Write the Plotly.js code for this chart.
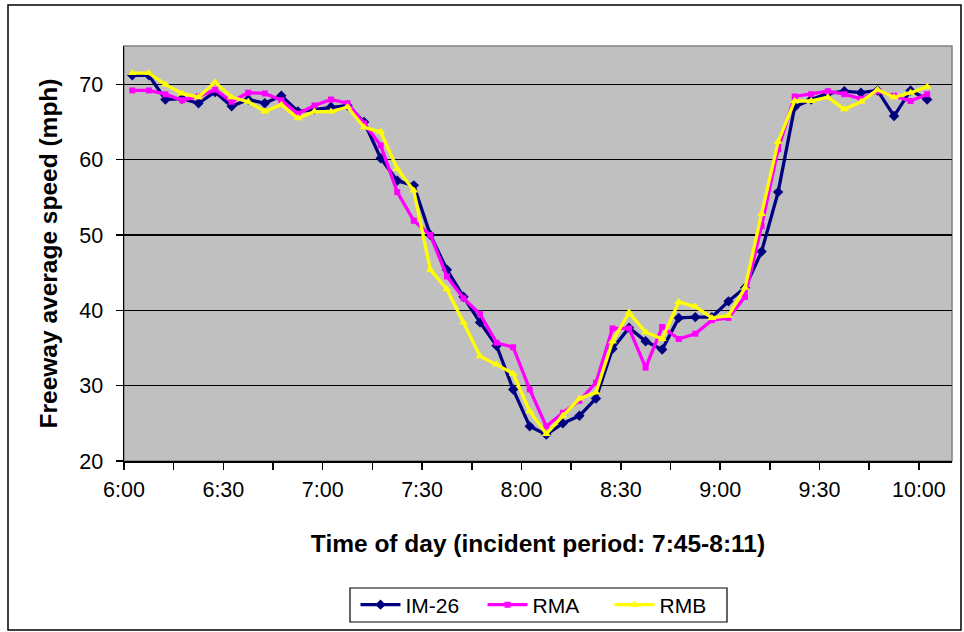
<!DOCTYPE html>
<html>
<head>
<meta charset="utf-8">
<script src="https://cdn.plot.ly/plotly-3.0.1.min.js"></script>
<style>html,body{margin:0;padding:0;background:#fff;}#chart{width:964px;height:632px;}</style>
</head>
<body>
<div id="chart"></div>
<script>
const times = ['06:02:30','06:07:30','06:12:30','06:17:30','06:22:30','06:27:30','06:32:30','06:37:30','06:42:30','06:47:30',
'06:52:30','06:57:30','07:02:30','07:07:30','07:12:30','07:17:30','07:22:30','07:27:30','07:32:30','07:37:30',
'07:42:30','07:47:30','07:52:30','07:57:30','08:02:30','08:07:30','08:12:30','08:17:30','08:22:30','08:27:30',
'08:32:30','08:37:30','08:42:30','08:47:30','08:52:30','08:57:30','09:02:30','09:07:30','09:12:30','09:17:30',
'09:22:30','09:27:30','09:32:30','09:37:30','09:42:30','09:47:30','09:52:30','09:57:30','10:02:30'];

const im26 = [71.2,71.2,68.0,68.1,67.5,69.0,67.1,68.0,67.5,68.5,66.4,66.7,67.0,67.2,65.0,60.2,57.2,56.6,50.0,45.4,
41.8,38.4,35.3,29.5,24.6,23.5,25.0,26.0,28.3,34.9,37.7,35.9,34.8,39.0,39.1,39.1,41.2,43.0,47.8,55.7,
67.0,68.0,68.8,69.1,68.9,69.2,65.8,69.2,68.0];
const rma = [69.2,69.2,68.7,67.9,68.4,69.3,67.7,68.9,68.8,67.9,66.1,67.2,68.0,67.5,64.8,61.9,55.7,51.9,50.0,44.5,
41.6,39.5,35.7,35.1,29.5,24.6,26.4,28.0,30.4,37.6,37.6,32.4,37.8,36.2,36.9,38.7,39.0,41.8,51.2,61.4,
68.4,68.7,69.1,68.7,68.1,69.1,68.5,67.8,68.7];
const rmb = [71.5,71.5,70.0,68.8,68.3,70.3,68.3,67.7,66.4,67.3,65.5,66.4,66.4,67.0,64.3,63.7,58.8,55.9,45.4,42.8,
38.4,33.9,32.8,31.6,26.6,23.6,26.0,28.3,29.1,35.9,39.7,37.1,36.2,41.1,40.5,39.0,39.3,43.0,52.8,62.4,
67.8,67.8,68.3,66.7,67.7,69.3,68.3,68.9,69.7];

const tickTimes = ['06:00','06:15','06:30','06:45','07:00','07:15','07:30','07:45','08:00','08:15','08:30','08:45','09:00','09:15','09:30','09:45','10:00'];
const tickLabels = ['6:00','','6:30','','7:00','','7:30','','8:00','','8:30','','9:00','','9:30','','10:00'];
const yTicks = [20,30,40,50,60,70];

const day = '2000-01-01 ';
const xs = times.map(t => day + t);
const FONT = 'Liberation Sans, Arial, sans-serif';

function tr(name, y, color, symbol, size) {
  return {x: xs, y: y, name: name, type: 'scatter', mode: 'lines+markers',
    line: {color: color, width: 3.3}, marker: {color: color, symbol: symbol, size: size}};
}

const data = [
  tr('IM-26', im26, '#000080', 'diamond', 8),
  tr('RMA', rma, '#FF00FF', 'square', 6),
  tr('RMB', rmb, '#FFFF00', 'triangle-up', 8)
];

const W = 964, H = 632, L = 124, R = 12, T = 46, B = 171;
const pw = W - L - R, ph = H - T - B;
const px = v => (v - L) / pw;
const py = v => (H - B - v) / ph;

const layout = {
  width: W, height: H,
  margin: {l: L, r: R, t: T, b: B, pad: 0, autoexpand: false},
  paper_bgcolor: '#FFFFFF', plot_bgcolor: '#C0C0C0',
  font: {family: FONT, size: 21, color: '#000'},
  showlegend: true,
  legend: {orientation: 'h', x: px(546), xanchor: 'center', y: py(605), yanchor: 'middle',
    borderwidth: 0, bgcolor: 'rgba(0,0,0,0)', font: {size: 21, family: FONT},
    itemwidth: 40, entrywidth: 72, traceorder: 'normal', tracegroupgap: 0},
  xaxis: {
    type: 'date', range: [day + '06:00', day + '10:10'], automargin: false,
    tickvals: tickTimes.map(t => day + t), ticktext: tickLabels,
    ticks: 'outside', ticklen: 7, tickwidth: 1.5, tickcolor: '#000', ticklabelstandoff: 2,
    showline: true, linecolor: '#000', linewidth: 1.5, showgrid: false, zeroline: false,
    tickfont: {size: 21.5, family: FONT},
    title: {text: 'Time of day (incident period: 7:45-8:11)', font: {size: 24.5, family: FONT, weight: 'bold'}, standoff: 33}
  },
  yaxis: {
    range: [20, 75.1], tickvals: yTicks, automargin: false,
    ticks: 'outside', ticklen: 7, tickwidth: 1.5, tickcolor: '#000', ticklabelstandoff: 8,
    showline: true, linecolor: '#000', linewidth: 1.5, showgrid: true, gridcolor: '#000', gridwidth: 1.2, zeroline: false,
    tickfont: {size: 21.5, family: FONT},
    title: {text: 'Freeway average speed (mph)', font: {size: 24.5, family: FONT, weight: 'bold'}, standoff: 14}
  },
  shapes: [
    {type: 'rect', xref: 'paper', yref: 'paper', x0: 0, x1: 1, y0: 0, y1: 1, line: {color: '#808080', width: 1.5}, layer: 'below'},
    {type: 'rect', xref: 'paper', yref: 'paper', x0: px(8), x1: px(961), y0: py(5), y1: py(630), line: {color: '#000', width: 1.5}},
    {type: 'rect', xref: 'paper', yref: 'paper', x0: px(350), x1: px(727), y0: py(588), y1: py(622), line: {color: '#000', width: 1.2}, fillcolor: '#fff'}
  ]
};

Plotly.newPlot('chart', data, layout, {displayModeBar: false, staticPlot: true});
</script>
</body>
</html>
